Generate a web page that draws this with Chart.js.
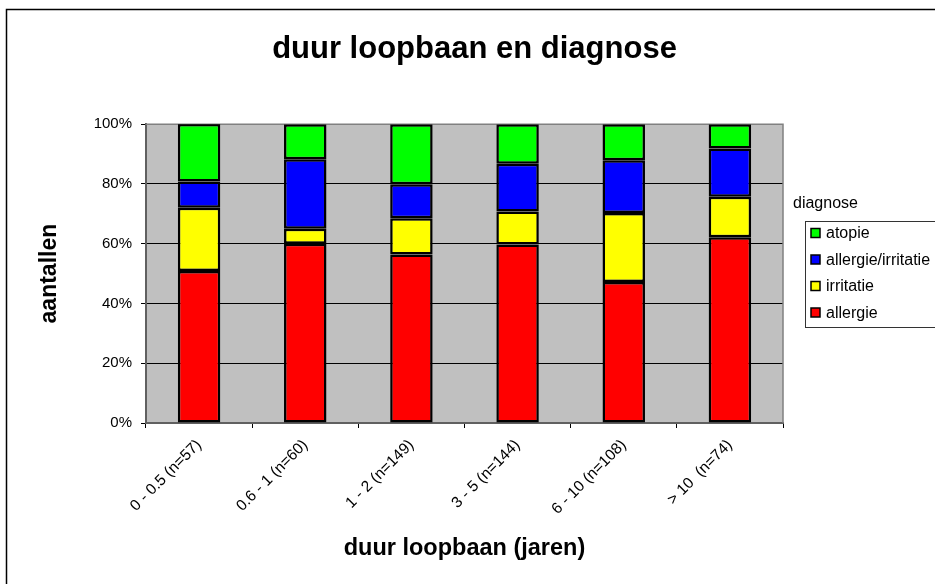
<!DOCTYPE html>
<html>
<head>
<meta charset="utf-8">
<script src="https://cdn.jsdelivr.net/npm/chart.js@4/dist/chart.umd.min.js"></script>
<style>
  html, body { margin: 0; padding: 0; background: #fff; }
  #wrap { width: 935px; height: 584px; }
</style>
</head>
<body>
<div id="wrap"><canvas id="myChart" width="935" height="584"></canvas></div>
<script>
var categories = ['0 - 0.5 (n=57)', '0.6 - 1 (n=60)', '1 - 2 (n=149)', '3 - 5 (n=144)', '6 - 10 (n=108)', '> 10  (n=74)']

// percentages per bar
var allergie = [50.9, 60.0, 56.4, 59.7, 47.2, 62.2]
var irritatie = [21.1, 5.0, 12.1, 11.1, 23.1, 13.5]
var allergie_irritatie = [8.8, 23.3, 11.4, 16.0, 17.6, 16.2]
var atopie = [19.3, 11.7, 20.1, 13.2, 12.1, 8.1]

var yTicks = [0, 20, 40, 60, 80, 100]
var legendTitle = 'diagnose'

var FONT = "'Liberation Sans', Arial, Helvetica, sans-serif"
Chart.defaults.font.family = FONT
Chart.defaults.color = '#000'

var plotBackground = {
    id: 'plotBackground',
    beforeDraw: function (chart) {
        var ctx = chart.ctx, a = chart.chartArea
        ctx.save()
        ctx.fillStyle = '#C0C0C0'
        ctx.fillRect(a.left, a.top, a.right - a.left, a.bottom - a.top)
        ctx.restore()
    },
    beforeDatasetsDraw: function (chart) {
        var ctx = chart.ctx, a = chart.chartArea
        ctx.save()
        ctx.strokeStyle = '#808080'
        ctx.lineWidth = 1.5
        ctx.beginPath()
        ctx.moveTo(a.left, a.top)
        ctx.lineTo(a.right, a.top)
        ctx.lineTo(a.right, a.bottom)
        ctx.stroke()
        ctx.restore()
    },
    afterDraw: function (chart) {
        var ctx = chart.ctx
        ctx.save()
        // outer frame (top and left only, the rest is cut off)
        ctx.strokeStyle = '#000'
        ctx.lineWidth = 1.5
        ctx.beginPath()
        ctx.moveTo(6.5, 584)
        ctx.lineTo(6.5, 9.5)
        ctx.lineTo(935, 9.5)
        ctx.stroke()

        // legend
        ctx.font = '16px ' + FONT
        ctx.fillStyle = '#000'
        ctx.textBaseline = 'middle'
        ctx.textAlign = 'left'
        ctx.fillText(legendTitle, 793, 204)
        ctx.strokeStyle = '#333'
        ctx.lineWidth = 1
        ctx.strokeRect(805.5, 221.5, 140, 106)
        var ds = chart.data.datasets.slice().reverse()
        for (var i = 0; i < ds.length; i++) {
            var y = 233 + i * 26.5
            ctx.fillStyle = ds[i].backgroundColor
            ctx.fillRect(811, y - 4.5, 9, 9)
            ctx.strokeStyle = '#000'
            ctx.lineWidth = 1.5
            ctx.strokeRect(811, y - 4.5, 9, 9)
            ctx.fillStyle = '#000'
            ctx.fillText(ds[i].label, 826, y + 1)
        }
        ctx.restore()
    }
}

var ctx = document.getElementById('myChart').getContext('2d')
var myChart = new Chart(ctx, {
    type: 'bar',
    data: {
        labels: categories,
        datasets: [{
            label: 'allergie',
            data: allergie,
            backgroundColor: '#FF0000'
        }, {
            label: 'irritatie',
            data: irritatie,
            backgroundColor: '#FFFF00'
        }, {
            label: 'allergie/irritatie',
            data: allergie_irritatie,
            backgroundColor: '#0000FF'
        }, {
            label: 'atopie',
            data: atopie,
            backgroundColor: '#00FF00'
        }]
    },
    options: {
        responsive: false,
        animation: false,
        devicePixelRatio: 1,
        layout: { padding: { left: 14, top: 0, right: 0, bottom: 0 } },
        datasets: {
            bar: {
                borderColor: '#000',
                borderWidth: 2.5,
                borderSkipped: false,
                barPercentage: 0.4,
                categoryPercentage: 1.0
            }
        },
        plugins: {
            legend: { display: false },
            tooltip: { enabled: false },
            title: {
                display: true,
                text: 'duur loopbaan en diagnose',
                font: { size: 31, weight: 'bold' },
                color: '#000',
                padding: { top: 31, bottom: 56 }
            }
        },
        scales: {
            x: {
                stacked: true,
                grid: {
                    display: true,
                    drawOnChartArea: false,
                    drawTicks: true,
                    tickLength: 5,
                    color: '#000',
                    offset: true
                },
                border: { display: true, color: '#606060', width: 2 },
                ticks: {
                    autoSkip: false,
                    minRotation: 45,
                    maxRotation: 45,
                    padding: 8,
                    font: { size: 15.5 }
                },
                title: {
                    display: true,
                    text: 'duur loopbaan (jaren)',
                    font: { size: 23.5, weight: 'bold' },
                    padding: { top: 0, bottom: 21 }
                },
                afterFit: function (s) { s.height = 161 }
            },
            y: {
                stacked: true,
                min: 0,
                max: 100,
                grid: {
                    color: '#000',
                    lineWidth: 1,
                    tickLength: 5
                },
                border: { display: true, color: '#606060', width: 2 },
                afterBuildTicks: function (s) {
                    s.ticks = yTicks.map(function (v) { return { value: v } })
                },
                ticks: {
                    padding: 9,
                    font: { size: 15 },
                    callback: function (v) { return v + '%' }
                },
                title: {
                    display: true,
                    text: 'aantallen',
                    font: { size: 23, weight: 'bold' },
                    padding: { top: 22, bottom: 0 }
                },
                afterFit: function (s) { s.width = 132 }
            },
            legendSpace: {
                type: 'linear',
                position: 'right',
                display: true,
                grid: { display: false },
                border: { display: false },
                ticks: { display: false },
                afterFit: function (s) { s.width = 152 }
            }
        }
    },
    plugins: [plotBackground]
})
</script>
</body>
</html>
